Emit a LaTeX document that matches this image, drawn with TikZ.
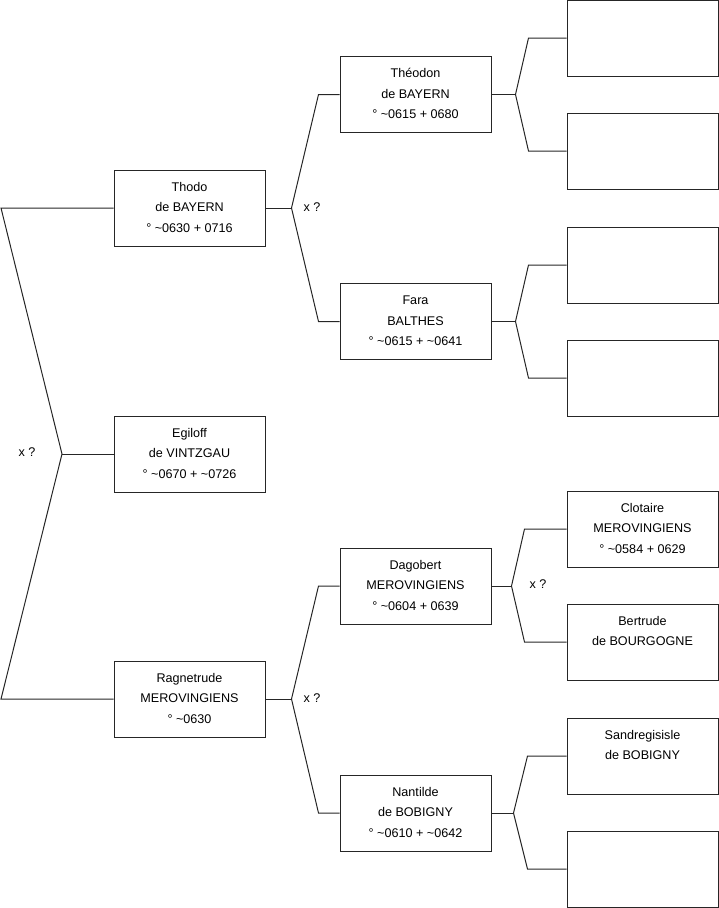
\documentclass[tikz,border=0pt]{standalone}
\usepackage{fontspec}
\setmainfont{Liberation Sans}
\usetikzlibrary{calc}
\begin{document}
\begin{tikzpicture}[x=1pt,y=-1pt,
  box/.style={draw=black!85,line width=1pt,minimum width=151pt,minimum height=76pt,inner sep=0pt},
  txt/.style={anchor=north,align=center,inner sep=0pt,font=\fontsize{12.6}{20.5}\selectfont},
  lbl/.style={inner sep=0pt,font=\fontsize{12.6}{15}\selectfont},
  link/.style={draw=black!85,line width=1pt}]
\useasboundingbox (0,0) rectangle (719,908);
% boxes
\node[box] (thodo) at (189.5,208) {};
\node[box] (egiloff) at (189.5,454) {};
\node[box] (ragne) at (189.5,699) {};
\node[box] (theodon) at (415.5,94.5) {};
\node[box] (fara) at (415.5,321.5) {};
\node[box] (dago) at (415.5,586) {};
\node[box] (nant) at (415.5,813) {};
\node[box] (r1) at (642.5,38) {};
\node[box] (r2) at (642.5,151) {};
\node[box] (r3) at (642.5,265) {};
\node[box] (r4) at (642.5,378) {};
\node[box] (r5) at (642.5,529) {};
\node[box] (r6) at (642.5,642) {};
\node[box] (r7) at (642.5,756) {};
\node[box] (r8) at (642.5,869) {};
% texts
\node[txt] (tthodo) at ([yshift=-7pt]thodo.north) {\strut Thodo\\de BAYERN\\° \textasciitilde0630 + 0716};
\node[txt] (tegiloff) at ([yshift=-7pt]egiloff.north) {\strut Egiloff\\de VINTZGAU\\° \textasciitilde0670 + \textasciitilde0726};
\node[txt] (tragne) at ([yshift=-7pt]ragne.north) {\strut Ragnetrude\\MEROVINGIENS\\° \textasciitilde0630};
\node[txt] (ttheodon) at ([yshift=-7pt]theodon.north) {\strut Théodon\\de BAYERN\\° \textasciitilde0615 + 0680};
\node[txt] (tfara) at ([yshift=-7pt]fara.north) {\strut Fara\\BALTHES\\° \textasciitilde0615 + \textasciitilde0641};
\node[txt] (tdago) at ([yshift=-7pt]dago.north) {\strut Dagobert\\MEROVINGIENS\\° \textasciitilde0604 + 0639};
\node[txt] (tnant) at ([yshift=-7pt]nant.north) {\strut Nantilde\\de BOBIGNY\\° \textasciitilde0610 + \textasciitilde0642};
\node[txt] (tr5) at ([yshift=-7pt]r5.north) {\strut Clotaire\\MEROVINGIENS\\° \textasciitilde0584 + 0629};
\node[txt] (tr6) at ([yshift=-7pt]r6.north) {\strut Bertrude\\de BOURGOGNE};
\node[txt] (tr7) at ([yshift=-7pt]r7.north) {\strut Sandregisisle\\de BOBIGNY};
% left fork
\coordinate (l1) at (1,208);
\coordinate (l2) at (62,454);
\coordinate (l3) at (1,699);
\draw[link] (thodo.west) -- (l1) -- (l2) -- (l3) -- (ragne.west);
\draw[link] (l2) -- (egiloff.west);
\node[lbl] (x1) at (27,452) {x ?};
% Thodo fork
\coordinate (f1) at ([xshift=26pt]thodo.east);
\draw[link] (thodo.east) -- (f1);
\draw[link] (theodon.west) -- ++(-21,0) -- (f1) -- ([xshift=-21pt]fara.west) -- (fara.west);
\node[lbl] (x2) at (312,207) {x ?};
% Ragnetrude fork
\coordinate (f2) at ([xshift=26pt]ragne.east);
\draw[link] (ragne.east) -- (f2);
\draw[link] (dago.west) -- ++(-21,0) -- (f2) -- ([xshift=-21pt]nant.west) -- (nant.west);
\node[lbl] (x3) at (312,698) {x ?};
% Theodon fork
\coordinate (f3) at ([xshift=24pt]theodon.east);
\draw[link] (theodon.east) -- (f3);
\draw[link] (r1.west) -- ++(-38,0) -- (f3) -- ([xshift=-38pt]r2.west) -- (r2.west);
% Fara fork
\coordinate (f4) at ([xshift=24pt]fara.east);
\draw[link] (fara.east) -- (f4);
\draw[link] (r3.west) -- ++(-38,0) -- (f4) -- ([xshift=-38pt]r4.west) -- (r4.west);
% Dagobert fork
\coordinate (f5) at ([xshift=20pt]dago.east);
\draw[link] (dago.east) -- (f5);
\draw[link] (r5.west) -- ++(-42,0) -- (f5) -- ([xshift=-42pt]r6.west) -- (r6.west);
\node[lbl] (x4) at (538,584) {x ?};
% Nantilde fork
\coordinate (f6) at ([xshift=22pt]nant.east);
\draw[link] (nant.east) -- (f6);
\draw[link] (r7.west) -- ++(-39,0) -- (f6) -- ([xshift=-39pt]r8.west) -- (r8.west);
\end{tikzpicture}
\end{document}
